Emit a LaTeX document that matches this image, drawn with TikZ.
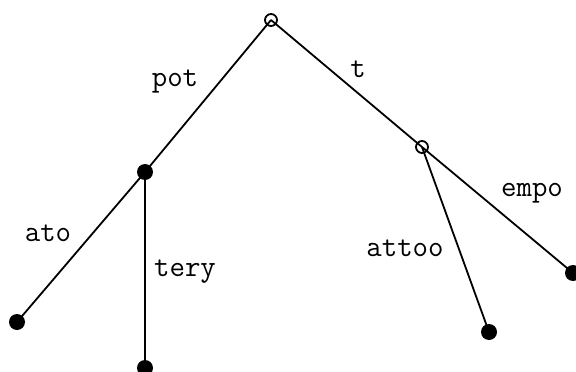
\documentclass[tikz,border=0pt]{standalone}
\begin{document}
\begin{tikzpicture}[x=1pt,y=-1pt,
  open/.style={circle,draw,line width=1.8pt,minimum size=12pt,inner sep=0pt},
  full/.style={circle,fill=black,minimum size=16pt,inner sep=0pt},
  edge/.style={line width=1.8pt},
  lbl/.style={font=\fontsize{30}{35}\selectfont\ttfamily,anchor=base,inner sep=0pt}]
\useasboundingbox (0,0) rectangle (576,372);
% tree nodes
\coordinate (r) at (271,20);
\coordinate (a) at (145,172);
\coordinate (b) at (422,147);
\coordinate (l1) at (17,322);
\coordinate (l2) at (145,368);
\coordinate (l3) at (489,332);
\coordinate (l4) at (573,273);
% edges
\draw[edge] (r) -- (a);
\draw[edge] (r) -- (b);
\draw[edge] (a) -- (l1);
\draw[edge] (a) -- (l2);
\draw[edge] (b) -- (l3);
\draw[edge] (b) -- (l4);
% vertices
\node[open] (rn) at (r) {};
\node[open] (bn) at (b) {};
\node[full] (an) at (a) {};
\node[full] (l1n) at (l1) {};
\node[full] (l2n) at (l2) {};
\node[full] (l3n) at (l3) {};
\node[full] (l4n) at (l4) {};
% edge labels
\node[lbl] (tpot) at (175,86) {pot};
\node[lbl] (tt) at (358,77) {t};
\node[lbl] (tato) at (48,241) {ato};
\node[lbl] (ttery) at (185,276) {tery};
\node[lbl] (tattoo) at (405,256) {attoo};
\node[lbl] (tempo) at (532,196) {empo};
\end{tikzpicture}
\end{document}
